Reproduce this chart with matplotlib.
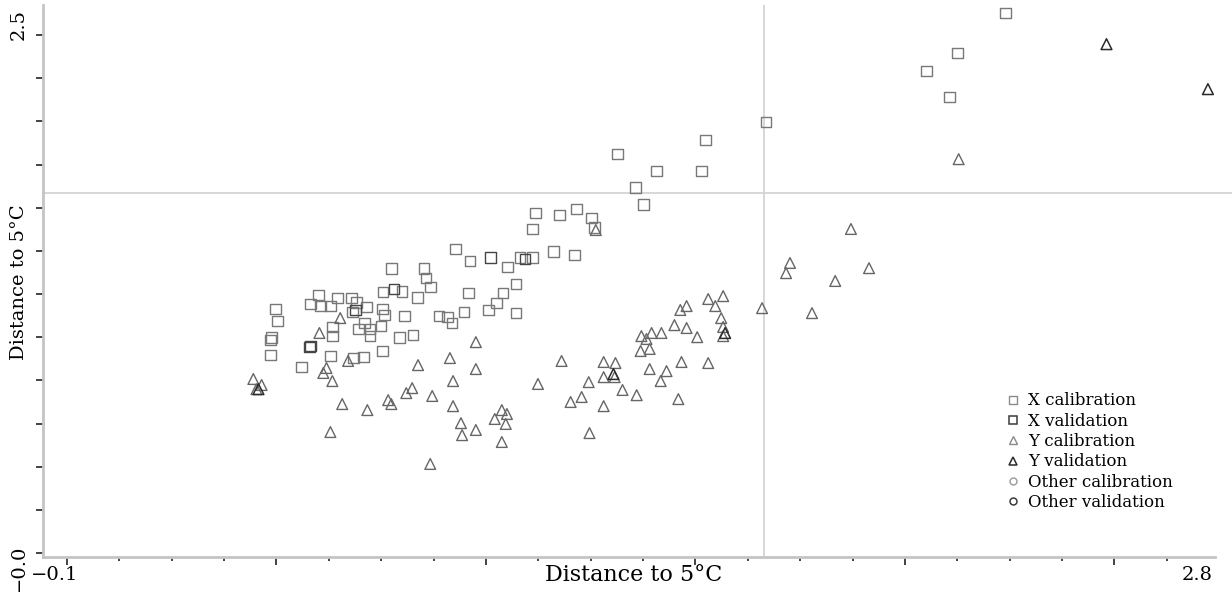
import numpy as np
import matplotlib
matplotlib.use("Agg")
import matplotlib.pyplot as plt
from matplotlib.lines import Line2D

# X (squares)
x_cal_x = [2.287, 2.166, 2.087, 2.145, 1.678, 1.524, 1.300, 1.399, 1.514, 1.346,
           1.366, 1.092, 1.153, 1.196, 1.234, 1.242, 1.085, 0.889, 1.052,
           1.085, 1.138, 1.191, 0.925, 1.021, 0.725, 0.808, 0.813, 0.824, 0.752,
           0.704, 0.791, 0.922, 1.042, 1.009, 0.993, 0.973, 1.042, 0.539, 0.519,
           0.544, 0.570, 0.588, 0.623, 0.636, 0.661, 0.626, 0.702, 0.707, 0.758,
           0.656, 0.641, 0.671, 0.671, 0.699, 0.745, 0.780, 0.846, 0.867, 0.879,
           0.910, 0.430, 0.435, 0.420, 0.418, 0.418, 0.575, 0.575, 0.570, 0.628,
           0.654, 0.702, 0.496]
x_cal_y = [2.606, 2.413, 2.326, 2.201, 2.080, 1.993, 1.926, 1.844, 1.844, 1.766,
           1.684, 1.641, 1.631, 1.660, 1.617, 1.573, 1.564, 1.467, 1.428,
           1.428, 1.457, 1.438, 1.409, 1.380, 1.375, 1.375, 1.327, 1.284, 1.264,
           1.260, 1.235, 1.255, 1.298, 1.255, 1.207, 1.173, 1.158, 1.245, 1.202,
           1.192, 1.192, 1.231, 1.231, 1.211, 1.187, 1.163, 1.178, 1.149, 1.144,
           1.110, 1.081, 1.081, 1.047, 1.096, 1.042, 1.052, 1.144, 1.139, 1.110,
           1.163, 1.178, 1.120, 1.042, 1.028, 0.956, 1.091, 1.047, 0.951, 0.941,
           0.946, 0.975, 0.898]
x_val_x = [0.978, 1.065, 0.732, 0.633, 0.519, 0.517]
x_val_y = [1.428, 1.419, 1.274, 1.173, 0.999, 0.994]

# Y (triangles)
y_cal_x = [2.168, 1.894, 1.739, 1.729, 1.940, 1.854, 1.668, 1.795, 1.245, 1.569,
           1.531, 1.549, 1.476, 1.460, 1.564, 1.569, 1.569, 1.445, 1.476, 1.503,
           1.412, 1.387, 1.361, 1.374, 1.359, 1.382, 1.158, 1.265, 1.295, 1.463,
           1.531, 1.382, 1.425, 1.265, 1.293, 1.227, 1.410, 1.098, 1.313, 1.209,
           1.181, 1.349, 1.265, 1.455, 1.006, 1.019, 0.988, 1.016, 1.229, 1.006,
           0.940, 0.874, 0.940, 0.882, 0.793, 0.615, 0.560, 0.552, 0.575, 0.374,
           0.395, 0.382, 0.763, 0.778, 0.829, 0.717, 0.725, 0.600, 0.664, 0.882,
           0.902, 0.905, 0.940, 0.570, 0.824, 0.595, 0.542]
y_cal_y = [1.901, 1.564, 1.400, 1.351, 1.375, 1.313, 1.182, 1.158, 1.559, 1.240,
           1.226, 1.192, 1.192, 1.173, 1.134, 1.091, 1.047, 1.100, 1.086, 1.042,
           1.062, 1.062, 1.047, 1.033, 0.975, 0.985, 0.927, 0.922, 0.917, 0.922,
           0.917, 0.888, 0.878, 0.849, 0.849, 0.825, 0.830, 0.816, 0.787, 0.753,
           0.729, 0.762, 0.709, 0.743, 0.690, 0.671, 0.647, 0.623, 0.579, 0.536,
           1.018, 0.941, 0.888, 0.830, 0.907, 0.927, 0.893, 0.869, 0.830, 0.840,
           0.811, 0.791, 0.772, 0.796, 0.758, 0.738, 0.719, 0.719, 0.690, 0.709,
           0.627, 0.569, 0.594, 0.584, 0.430, 1.134, 1.062]
y_val_x = [2.544, 2.802, 1.574, 1.290, 0.387]
y_val_y = [2.456, 2.239, 1.062, 0.864, 0.791]

# reference lines
x_ref = 1.674
y_ref = 1.737

x_lim = (-0.161, 2.82)
y_lim = (-0.019, 2.645)

legend_labels = ["X calibration", "X validation", "Y calibration",
                 "Y validation", "Other calibration", "Other validation"]

plt.rcParams['font.family'] = ['DejaVu Serif']

fig = plt.figure(figsize=(12.32, 5.92), dpi=100)
ax = fig.add_axes([43 / 1232, 35 / 592, 1172 / 1232, 552 / 592])

ax.axvline(x_ref, color="#d4d4d4", lw=1.3, zorder=1)
ax.axhline(y_ref, color="#d4d4d4", lw=1.3, xmax=1.015, clip_on=False, zorder=1)

ax.scatter(x_cal_x, x_cal_y, marker="s", s=60, facecolors="none",
           edgecolors="#787878", linewidths=1.0, zorder=3)
ax.scatter(x_val_x, x_val_y, marker="s", s=60, facecolors="none",
           edgecolors="#454545", linewidths=1.0, zorder=3)
ax.scatter(y_cal_x, y_cal_y, marker="^", s=60, facecolors="none",
           edgecolors="#666666", linewidths=1.0, zorder=3)
ax.scatter(y_val_x, y_val_y, marker="^", s=60, facecolors="none",
           edgecolors="#2a2a2a", linewidths=1.1, zorder=3)

ax.set_xlim(*x_lim)
ax.set_ylim(*y_lim)

for s in ["top", "right"]:
    ax.spines[s].set_visible(False)
for s in ["left", "bottom"]:
    ax.spines[s].set_color("#c4c4c4")
    ax.spines[s].set_linewidth(2)

# ticks, unlabeled except the axis ends
step = 2.9 * 52.5 / 1143
ax.set_xticks([-0.1 + 4 * step * k for k in range(6)])
ax.set_xticks([-0.1 + step * k for k in range(22)], minor=True)
ax.set_yticks([2.5 * k / 12 for k in range(13)])
ax.tick_params(axis="x", which="major", direction="out", length=6, width=1.2,
               color="#222222", labelbottom=False)
ax.tick_params(axis="x", which="minor", direction="out", length=3, width=1.2,
               color="#222222")
ax.tick_params(axis="y", direction="out", length=5, width=1.2,
               color="#222222", labelleft=False)

fig.text(55 / 1232, 1 - 575 / 592, "\u22120.1", fontsize=14, ha="center", va="center")
fig.text(1197 / 1232, 1 - 575 / 592, "2.8", fontsize=14, ha="center", va="center")
fig.text(19 / 1232, 1 - 25 / 592, "2.5", fontsize=14, ha="center", va="center", rotation=90)
fig.text(19 / 1232, 1 - 568 / 592, "\u22120.0", fontsize=14, ha="center", va="center", rotation=90)
fig.text(634 / 1232, 1 - 575 / 592, "Distance to 5°C", fontsize=16, ha="center", va="center")
fig.text(19 / 1232, 1 - 282 / 592, "Distance to 5°C", fontsize=14, ha="center", va="center",
         rotation=90)

handles = [
    Line2D([], [], ls="none", marker="s", ms=6, mfc="none", mec="#8a8a8a", mew=1),
    Line2D([], [], ls="none", marker="s", ms=6, mfc="none", mec="#3a3a3a", mew=1.1),
    Line2D([], [], ls="none", marker="^", ms=6, mfc="none", mec="#8a8a8a", mew=1),
    Line2D([], [], ls="none", marker="^", ms=6, mfc="none", mec="#2a2a2a", mew=1.1),
    Line2D([], [], ls="none", marker="o", ms=5, mfc="none", mec="#9a9a9a", mew=1),
    Line2D([], [], ls="none", marker="o", ms=5, mfc="none", mec="#3a3a3a", mew=1.1),
]
fig.legend(handles, legend_labels, loc="upper left",
           bbox_to_anchor=(998 / 1232, 1 - 384 / 592), frameon=False,
           fontsize=12, handlelength=0.8, handletextpad=0.5, labelspacing=0.2,
           borderpad=0)

fig.savefig("out.png", dpi=100)
